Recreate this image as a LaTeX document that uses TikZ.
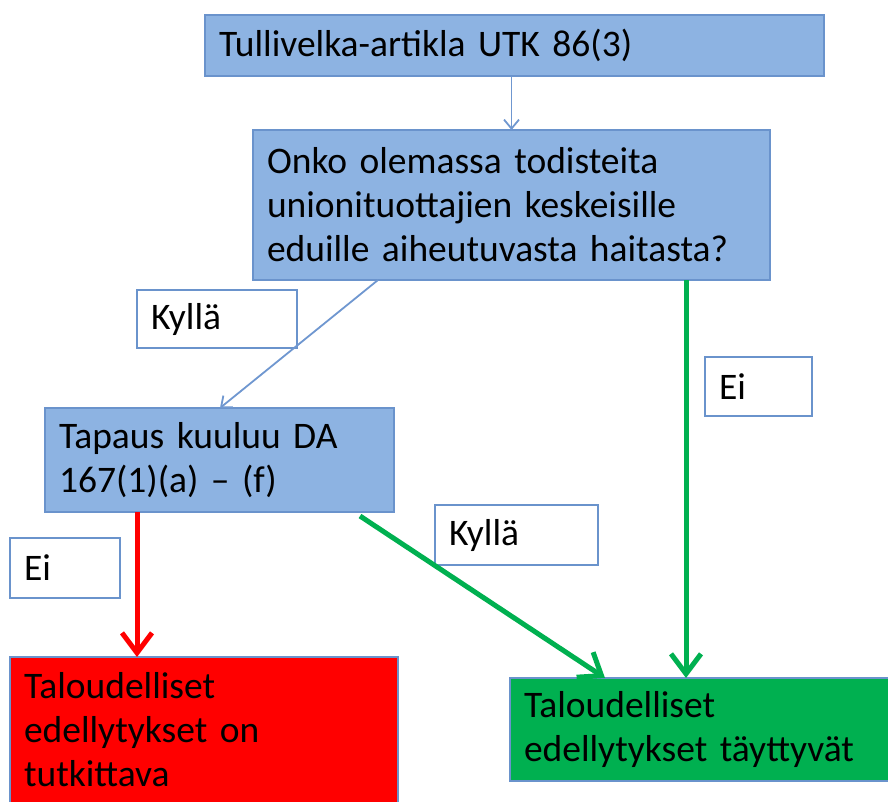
\documentclass[tikz,border=0pt]{standalone}
\usepackage{fontspec}
\setmainfont{Carlito}[WordSpace=0.85]
\usetikzlibrary{arrows.meta,calc}
\definecolor{boxblue}{HTML}{8DB3E2}
\definecolor{edgeblue}{HTML}{6A93CC}
\definecolor{arrblue}{HTML}{6F97D0}
\definecolor{pgreen}{HTML}{00B050}
\definecolor{pred}{HTML}{FF0000}
\begin{document}
\begin{tikzpicture}[x=1pt,y=-1pt,
  every node/.style={font=\fontsize{37.5}{44}\selectfont, inner xsep=14pt, inner ysep=0pt,
    outer sep=0pt, anchor=north west, align=left, text=black},
  bluebox/.style={draw=edgeblue, line width=1.5pt, fill=boxblue},
  redbox/.style={draw=edgeblue, line width=1.5pt, fill=pred},
  greenbox/.style={draw=edgeblue, line width=1.5pt, fill=pgreen},
  labelbox/.style={draw=edgeblue, line width=1.5pt, fill=white},
  thinarrow/.style={draw=arrblue, line width=1.8pt, -{Straight Barb[length=9pt,width=15pt]}},
  greenarrow/.style={draw=pgreen, line width=5pt, -{Straight Barb[length=20pt,width=30pt]}},
  redarrow/.style={draw=pred, line width=5pt, -{Straight Barb[length=20pt,width=30pt]}}]
\useasboundingbox (0,0) rectangle (888,801);
\fill[white] (0,0) rectangle (888,801);

\node[bluebox, minimum height=61pt, text width=591pt] (top) at (205,15) {Tullivelka-artikla UTK 86(3)};
\node[bluebox, minimum height=150pt, text width=489pt] (q) at (253,130)
  {Onko olemassa todisteita\\unionituottajien keskeisille\\eduille aiheutuvasta haitasta?};
\node[bluebox, minimum height=104pt, text width=321pt] (tap) at (45,408)
  {Tapaus kuuluu DA\\167(1)(a) -- (f)};
\node[redbox, minimum height=146pt, text width=360pt] (red) at (10,657)
  {Taloudelliset\\edellytykset on\\tutkittava};
\node[greenbox, minimum height=103pt, text width=352pt] (green) at (510,678)
  {Taloudelliset\\edellytykset täyttyvät};

\node[labelbox, minimum height=58pt, text width=132pt] (k1) at (137,290) {Kyllä};
\node[labelbox, minimum height=59pt, text width=79pt] (e1) at (705,357) {Ei};
\node[labelbox, minimum height=60pt, text width=82pt] (e2) at (10,538) {Ei};
\node[labelbox, minimum height=60pt, text width=135pt] (k2) at (435,505) {Kyllä};

\coordinate (qs1) at ($(q.south west)+(125,0)$);
\coordinate (tn) at ($(tap.north west)+(175,0)$);
\coordinate (qs2) at ($(q.south west)+(433,0)$);
\coordinate (ts) at ($(tap.south west)+(315,4)$);
\coordinate (gn) at ($(green.north west)+(95,0)$);

\draw[thinarrow] (q.north |- top.south) -- (q.north);
\draw[thinarrow] (qs1) -- (tn);
\draw[greenarrow] (qs2) -- (qs2 |- green.north);
\draw[redarrow] ($(tap.south west)+(92,0)$) -- ($(red.north west)+(127,0)$);
\draw[greenarrow] (ts) -- (gn);
\end{tikzpicture}
\end{document}
